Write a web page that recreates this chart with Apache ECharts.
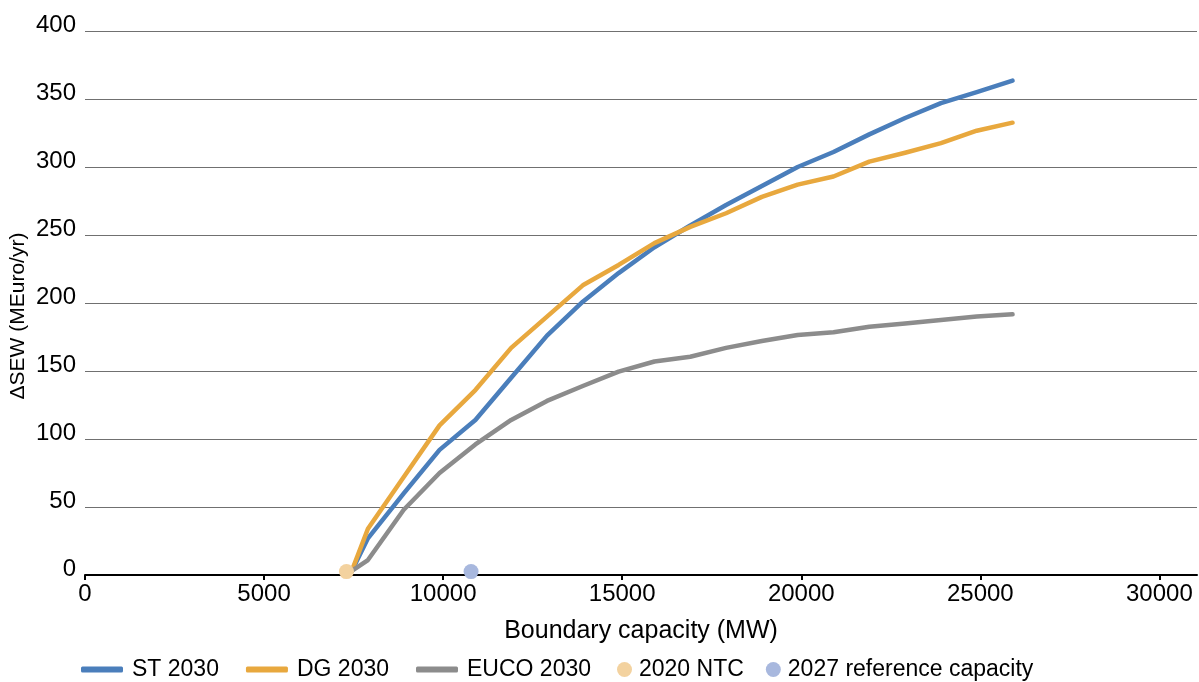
<!DOCTYPE html>
<html>
<head>
<meta charset="utf-8">
<script src="https://cdn.jsdelivr.net/npm/echarts@6/dist/echarts.min.js"></script>
<style>
html,body{margin:0;padding:0;background:#fff;}
#chart{width:1199px;height:682px;}
</style>
</head>
<body>
<div id="chart"></div>
<script>
const capacity = [7450, 7900, 8900, 9900, 10900, 11900, 12900, 13900, 14900, 15900, 16900, 17900, 18900, 19900, 20900, 21900, 22900, 23900, 24900, 25900];
const st2030 = [3, 27, 60, 92, 114, 145, 176, 201, 222, 241, 257, 272, 286, 300, 311, 324, 336, 347, 355, 363.5];
const dg2030 = [3, 34, 72, 110, 136, 167, 190, 213, 228, 244, 256, 266, 278, 287, 293, 304, 310.5, 317.5, 326.7, 332.6];
const euco2030 = [3, 11, 48, 75, 96, 114, 128, 139, 149.5, 157, 160.5, 167, 172, 176.5, 178.5, 182.6, 185, 187.5, 190, 191.7];
const ntc2020 = [[7300, 2.5]];
const ref2027 = [[10780, 2.5]];
const xTicks = [0, 5000, 10000, 15000, 20000, 25000, 30000];
const yTicks = [0, 50, 100, 150, 200, 250, 300, 350, 400];
const seriesNames = ['ST 2030', 'DG 2030', 'EUCO 2030', '2020 NTC', '2027 reference capacity'];

const zip = (xs, ys) => xs.map((x, i) => [x, ys[i]]);
const FONT = 'Liberation Sans, Arial, sans-serif';

const chart = echarts.init(document.getElementById('chart'));
const lineSeries = (name, data, color) => ({
  name, type: 'line', data: zip(capacity, data), showSymbol: false, symbol: 'none',
  lineStyle: { color, width: 4.5, cap: 'round', join: 'round' },
  itemStyle: { color }, z: 3
});
chart.setOption({
  animation: false,
  backgroundColor: '#fff',
  grid: { left: 85, right: 2, top: 31, bottom: 107, containLabel: false, outerBoundsMode: 'none' },
  xAxis: {
    type: 'value', min: 0, max: 31050, interval: 5000,
    name: 'Boundary capacity (MW)', nameLocation: 'middle', nameGap: 44,
    nameTextStyle: { color: '#000', fontSize: 25, fontFamily: FONT },
    axisLine: { show: true, onZero: false, lineStyle: { color: '#000', width: 2 } },
    axisTick: { show: true, customValues: xTicks, length: 5, inside: false, lineStyle: { color: '#000', width: 2 } },
    axisLabel: { customValues: xTicks, color: '#000', fontSize: 24, fontFamily: FONT, margin: 7,
      formatter: v => String(v) },
    splitLine: { show: false }
  },
  yAxis: {
    type: 'value', min: 0, max: 400, interval: 50,
    name: 'ΔSEW (MEuro/yr)', nameLocation: 'middle', nameGap: 56, nameMoveOverlap: false,
    nameTextStyle: { color: '#000', fontSize: 21, fontFamily: FONT, padding: [0, 26, 0, 0] },
    axisLine: { show: false },
    axisTick: { show: false },
    axisLabel: { customValues: yTicks, color: '#000', fontSize: 24, fontFamily: FONT, margin: 9,
      verticalAlign: 'bottom', lineHeight: 12, formatter: v => String(v) },
    splitLine: { show: true, lineStyle: { color: '#707070', width: 1.2 } }
  },
  legend: [
    {
      left: 81, top: 658, padding: 0, itemGap: 27, itemWidth: 42, itemHeight: 6,
      textStyle: { color: '#000', fontSize: 23, fontFamily: FONT, padding: [0, 0, 0, 4] },
      data: [
        { name: seriesNames[0], icon: 'roundRect' },
        { name: seriesNames[1], icon: 'roundRect' },
        { name: seriesNames[2], icon: 'roundRect' }
      ]
    },
    {
      left: 617, top: 658, padding: 0, itemGap: 22, itemWidth: 15, itemHeight: 15,
      textStyle: { color: '#000', fontSize: 23, fontFamily: FONT, padding: [0, 0, 0, 2] },
      data: [
        { name: seriesNames[3], icon: 'circle' },
        { name: seriesNames[4], icon: 'circle' }
      ]
    }
  ],
  series: [
    lineSeries(seriesNames[0], st2030, '#4A7EBB'),
    lineSeries(seriesNames[1], dg2030, '#E8A83E'),
    lineSeries(seriesNames[2], euco2030, '#8C8C8C'),
    { name: seriesNames[3], type: 'scatter', data: ntc2020, symbolSize: 15, itemStyle: { color: '#F3D29F', opacity: 1 }, z: 5 },
    { name: seriesNames[4], type: 'scatter', data: ref2027, symbolSize: 15, itemStyle: { color: '#A8B8DE', opacity: 1 }, z: 5 }
  ]
});
</script>
</body>
</html>
